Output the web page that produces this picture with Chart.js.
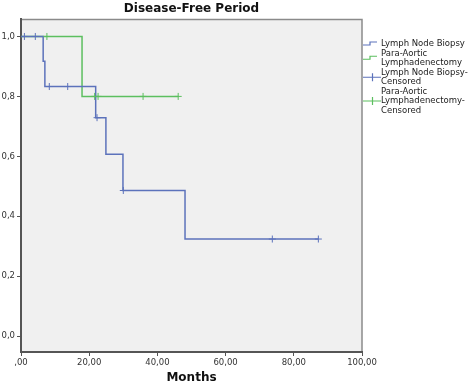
<!DOCTYPE html>
<html>
<head>
<meta charset="utf-8">
<script src="https://cdn.jsdelivr.net/npm/chart.js@4.4.0/dist/chart.umd.min.js"></script>
<style>
  html, body { margin: 0; padding: 0; background: #fff; }
</style>
</head>
<body>
<canvas id="kmChart" width="472" height="389"></canvas>
<script>
// Kaplan-Meier: disease-free period
const lnbTimes = [0, 6.5, 7, 21.9, 24.9, 29.9, 48.1, 87.2];
const lnbSurv = [1, 0.917, 0.833, 0.729, 0.607, 0.486, 0.324, 0.324];
const lnbCensorTimes = [1, 4.2, 8.3, 13.7, 22.3, 30, 73.7, 87.2];
const lnbCensorSurv = [1, 1, 0.833, 0.833, 0.729, 0.486, 0.324, 0.324];

const palTimes = [0, 17.9, 46.1];
const palSurv = [1, 0.8, 0.8];
const palCensorTimes = [7.6, 21.6, 22.6, 35.8, 46.1];
const palCensorSurv = [1, 0.8, 0.8, 0.8, 0.8];

const xTickValues = [0, 20, 40, 60, 80, 100];
const xTickLabels = [',00', '20,00', '40,00', '60,00', '80,00', '100,00'];
const yTickValues = [0, 0.2, 0.4, 0.6, 0.8, 1.0];
const yTickLabels = ['0,0', '0,2', '0,4', '0,6', '0,8', '1,0'];

const legendItems = [
    { kind: 'step', color: '#5c72bb', lines: ['Lymph Node Biopsy'] },
    { kind: 'step', color: '#5cbf5f', lines: ['Para-Aortic', 'Lymphadenectomy'] },
    { kind: 'cross', color: '#5c72bb', lines: ['Lymph Node Biopsy-', 'Censored'] },
    { kind: 'cross', color: '#5cbf5f', lines: ['Para-Aortic', 'Lymphadenectomy-', 'Censored'] }
];

const BLUE = '#5c72bb';
const GREEN = '#5cbf5f';
const FONT = '"DejaVu Sans", Verdana, sans-serif';

const toPoints = (xs, ys) => xs.map((x, i) => ({ x: x, y: ys[i] }));

// plot background + top/right frame
const plotFrame = {
    id: 'plotFrame',
    beforeDraw(chart) {
        const { ctx, chartArea: a } = chart;
        ctx.save();
        ctx.fillStyle = '#f0f0f0';
        ctx.fillRect(a.left, a.top, a.right - a.left, a.bottom - a.top);
        ctx.strokeStyle = '#8a8a8a';
        ctx.lineWidth = 1.5;
        ctx.beginPath();
        ctx.moveTo(a.left, a.top);
        ctx.lineTo(a.right, a.top);
        ctx.lineTo(a.right, a.bottom);
        ctx.stroke();
        ctx.restore();
    }
};

// SPSS style legend at the right of the plot
const sideLegend = {
    id: 'sideLegend',
    afterDraw(chart) {
        const ctx = chart.ctx;
        const x0 = chart.chartArea.right + 1;
        const textX = 381;
        const lineH = 9.5;
        let y = 44;
        ctx.save();
        ctx.font = '8.5px ' + FONT;
        ctx.textBaseline = 'middle';
        ctx.fillStyle = '#222';
        legendItems.forEach(item => {
            const mid = y + (item.lines.length - 1) * lineH / 2;
            ctx.strokeStyle = item.color;
            ctx.lineWidth = 1.2;
            ctx.beginPath();
            if (item.kind === 'step') {
                ctx.moveTo(x0, mid + 1);
                ctx.lineTo(x0 + 7, mid + 1);
                ctx.lineTo(x0 + 7, mid - 2);
                ctx.lineTo(x0 + 14, mid - 2);
            } else {
                ctx.moveTo(x0, mid);
                ctx.lineTo(textX, mid);
                ctx.moveTo(x0 + 9.5, mid - 4);
                ctx.lineTo(x0 + 9.5, mid + 4);
            }
            ctx.stroke();
            item.lines.forEach((t, i) => ctx.fillText(t, textX, y + i * lineH));
            y += item.lines.length * lineH;
        });
        ctx.restore();
    }
};

new Chart(document.getElementById('kmChart'), {
    type: 'scatter',
    data: {
        datasets: [
            {
                label: 'Lymph Node Biopsy-Censored',
                data: toPoints(lnbCensorTimes, lnbCensorSurv),
                pointStyle: 'cross',
                pointRadius: 3.5,
                pointBorderWidth: 1,
                borderColor: BLUE,
                showLine: false
            },
            {
                label: 'Para-Aortic Lymphadenectomy-Censored',
                data: toPoints(palCensorTimes, palCensorSurv),
                pointStyle: 'cross',
                pointRadius: 3.5,
                pointBorderWidth: 1,
                borderColor: GREEN,
                showLine: false
            },
            {
                label: 'Lymph Node Biopsy',
                data: toPoints(lnbTimes, lnbSurv),
                showLine: true,
                stepped: true,
                borderColor: BLUE,
                borderWidth: 1.5,
                pointRadius: 0
            },
            {
                label: 'Para-Aortic Lymphadenectomy',
                data: toPoints(palTimes, palSurv),
                showLine: true,
                stepped: true,
                borderColor: GREEN,
                borderWidth: 1.5,
                pointRadius: 0
            }
        ]
    },
    options: {
        responsive: false,
        animation: false,
        layout: { padding: { right: 110 } },
        plugins: {
            legend: { display: false },
            tooltip: { enabled: false },
            title: {
                display: true,
                text: 'Disease-Free Period',
                fullSize: false,
                color: '#111',
                font: { family: FONT, size: 12, weight: 'bold' },
                padding: { top: 2, bottom: 3 }
            }
        },
        scales: {
            x: {
                type: 'linear',
                min: 0,
                max: 100,
                afterBuildTicks: scale => { scale.ticks = xTickValues.map(v => ({ value: v })); },
                afterFit: scale => { scale.height = 37; },
                ticks: {
                    callback: (v, i) => xTickLabels[i],
                    color: '#333',
                    padding: 2,
                    maxRotation: 0,
                    font: { family: FONT, size: 8.5 }
                },
                grid: { drawOnChartArea: false, drawTicks: true, tickLength: 4, color: '#555' },
                border: { display: true, color: '#555', width: 2 },
                title: {
                    display: true,
                    text: 'Months',
                    color: '#111',
                    font: { family: FONT, size: 12, weight: 'bold' },
                    padding: { top: 0, bottom: 4 }
                }
            },
            y: {
                type: 'linear',
                min: -0.053,
                max: 1.057,
                afterBuildTicks: scale => { scale.ticks = yTickValues.map(v => ({ value: v })); },
                afterFit: scale => { scale.width = 21; },
                ticks: {
                    callback: (v, i) => yTickLabels[i],
                    color: '#333',
                    padding: 2,
                    font: { family: FONT, size: 8.5 }
                },
                grid: { drawOnChartArea: false, drawTicks: true, tickLength: 4, color: '#555' },
                border: { display: true, color: '#555', width: 2 }
            }
        }
    },
    plugins: [plotFrame, sideLegend]
});
</script>
</body>
</html>
